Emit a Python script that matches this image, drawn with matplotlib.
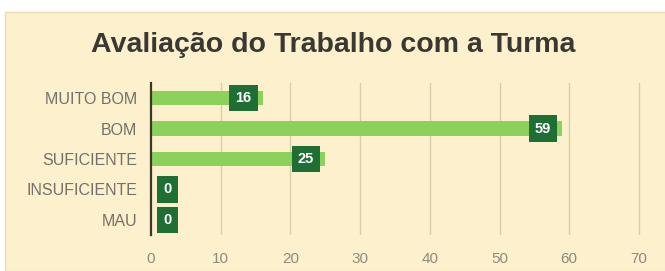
import matplotlib.pyplot as plt
from matplotlib.patches import Rectangle

# Dados
categorias = ['MUITO BOM', 'BOM', 'SUFICIENTE', 'INSUFICIENTE', 'MAU']
valores = [16, 59, 25, 0, 0]
xticks = [0, 10, 20, 30, 40, 50, 60, 70]

fundo = '#FDF0CD'
verde_barra = '#8CD15C'
verde_rotulo = '#1F6E34'

plt.rcParams['font.family'] = ['Liberation Sans', 'DejaVu Sans']

fig = plt.figure(figsize=(6.65, 2.71), dpi=100)
fig.patch.set_facecolor('white')
# painel creme
fig.patches.append(Rectangle((5 / 665, 0), 1, 1 - 12 / 271, transform=fig.transFigure,
                             facecolor=fundo, edgecolor='#EADBB0', linewidth=1, zorder=-1))

ax = fig.add_axes([151 / 665, 1 - 235 / 271, 490 / 665, 152 / 271])
ax.set_zorder(2)
ax.set_facecolor('none')

y = list(range(len(categorias)))
ax.barh(y, valores, height=0.48, color=verde_barra, zorder=2)

caixa = dict(boxstyle='square,pad=0.42', fc=verde_rotulo, ec='none')
for yi, v in zip(y, valores):
    if v > 0:
        ax.annotate(str(v), (v, yi), xytext=(-8, 0), textcoords='offset points',
                    ha='right', va='center', color='white', fontsize=10.5, fontweight='bold',
                    bbox=caixa, zorder=3)
    else:
        ax.annotate(str(v), (v, yi), xytext=(9, 0), textcoords='offset points',
                    ha='left', va='center', color='white', fontsize=10.5, fontweight='bold',
                    bbox=caixa, zorder=3)

ax.set_xlim(0, 70.3)
ax.set_ylim(len(categorias) - 0.5, -0.5)
ax.set_xticks(xticks)
ax.set_yticks(y)
ax.set_yticklabels(categorias, fontsize=11.5, color='#74706A')
ax.tick_params(axis='x', length=0, pad=12, labelsize=11, labelcolor='#8F8A7E')
ax.tick_params(axis='y', length=0, pad=10)

for t in xticks[1:]:
    ax.axvline(t, color='#D8CDAA', linewidth=1, zorder=1)

for s in ['top', 'right', 'bottom']:
    ax.spines[s].set_visible(False)
ax.spines['left'].set_color('#3B3828')
ax.spines['left'].set_linewidth(1.6)
ax.spines['left'].set_zorder(4)

fig.text(333 / 665, 1 - 45 / 271, 'Avaliação do Trabalho com a Turma', ha='center', va='center',
         fontsize=20.5, fontweight='bold', color='#3A3833')

fig.savefig('out.png', dpi=100, facecolor=fig.get_facecolor())
